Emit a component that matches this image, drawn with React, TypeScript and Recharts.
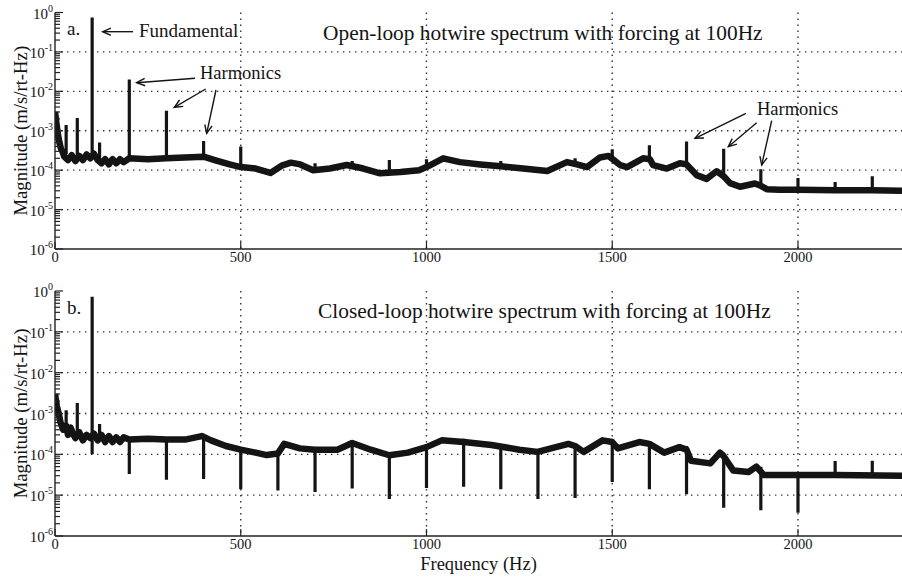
import React from 'react';
import { LineChart, Line, XAxis, YAxis, CartesianGrid, ReferenceLine, Label } from 'recharts';

// frequency axis (Hz) and magnitude decades (m/s/rt-Hz)
const freqTicks = [0, 500, 1000, 1500, 2000];
const decades = [1e-6, 1e-5, 1e-4, 1e-3, 1e-2, 1e-1, 1];
const gridDecades = [1e-5, 1e-4, 1e-3, 1e-2, 1e-1];

// a. open-loop broadband floor [Hz, magnitude]
const openFloor: [number, number][] = [
  [0, 3e-3], [4, 1.5e-3], [8, 8e-4], [12, 5e-4], [16, 3.5e-4], [20, 3e-4], [25, 2.2e-4],
  [35, 1.8e-4], [45, 2.4e-4], [55, 1.7e-4], [65, 2.3e-4], [75, 1.8e-4], [85, 2.5e-4],
  [95, 2.0e-4], [105, 2.6e-4], [115, 1.8e-4], [125, 1.5e-4], [135, 1.9e-4], [145, 1.4e-4],
  [155, 1.9e-4], [165, 1.5e-4], [175, 1.9e-4], [185, 1.6e-4], [200, 2.0e-4], [250, 1.9e-4],
  [300, 2.0e-4], [350, 2.1e-4], [400, 2.2e-4], [430, 1.8e-4], [470, 1.4e-4], [500, 1.2e-4],
  [540, 1.1e-4], [580, 8.5e-5], [610, 1.3e-4], [635, 1.55e-4], [660, 1.4e-4], [695, 1.0e-4],
  [740, 1.1e-4], [785, 1.35e-4], [830, 1.1e-4], [875, 8.3e-5], [930, 9e-5], [980, 1.0e-4],
  [1000, 1.2e-4], [1045, 2.0e-4], [1090, 1.6e-4], [1145, 1.4e-4], [1200, 1.25e-4],
  [1260, 1.1e-4], [1325, 9.5e-5], [1378, 1.6e-4], [1405, 1.4e-4], [1432, 1.2e-4],
  [1467, 2.1e-4], [1490, 2.3e-4], [1521, 1.35e-4], [1540, 1.2e-4], [1583, 2.0e-4],
  [1601, 1.9e-4], [1610, 1.35e-4], [1647, 1.1e-4], [1682, 1.5e-4], [1700, 1.4e-4],
  [1727, 7.5e-5], [1754, 6e-5], [1781, 9.4e-5], [1800, 7e-5], [1817, 4.7e-5], [1844, 3.8e-5],
  [1884, 4.6e-5], [1900, 4e-5], [1916, 3.3e-5], [1950, 3.2e-5], [2000, 3.2e-5],
  [2100, 3.1e-5], [2200, 3.1e-5], [2280, 3.0e-5],
];

// a. open-loop tones [Hz, from, to]
const openTones: [number, number, number][] = [
  [30, 2.5e-4, 1.4e-3], [60, 1.8e-4, 2.1e-3], [100, 2.0e-4, 0.75], [120, 1.8e-4, 5e-4],
  [200, 2.0e-4, 0.02], [300, 2.0e-4, 3.2e-3], [400, 2.2e-4, 5.5e-4], [500, 1.2e-4, 4e-4],
  [700, 1.0e-4, 1.5e-4], [800, 1.3e-4, 1.7e-4], [900, 8.5e-5, 1.8e-4], [1000, 1.2e-4, 1.9e-4],
  [1200, 1.25e-4, 1.7e-4], [1400, 1.4e-4, 2.0e-4], [1500, 2.2e-4, 3.4e-4],
  [1600, 1.9e-4, 4.3e-4], [1700, 1.4e-4, 5.3e-4], [1800, 7e-5, 3.5e-4],
  [1900, 4e-5, 1.05e-4], [2000, 3.2e-5, 6.3e-5], [2100, 3.1e-5, 5e-5], [2200, 3.1e-5, 7e-5],
];

// b. closed-loop broadband floor [Hz, magnitude]
const closedFloor: [number, number][] = [
  [0, 3e-3], [5, 1.5e-3], [10, 1e-3], [15, 6e-4], [22, 4e-4], [30, 5e-4], [35, 3e-4],
  [42, 4.5e-4], [50, 3e-4], [55, 2.5e-4], [65, 3.5e-4], [75, 2.2e-4], [85, 3e-4],
  [95, 2.5e-4], [105, 3.2e-4], [115, 2.2e-4], [125, 3e-4], [135, 2e-4], [145, 2.8e-4],
  [155, 2e-4], [165, 2.6e-4], [175, 2e-4], [185, 2.6e-4], [200, 2.3e-4], [250, 2.4e-4],
  [300, 2.3e-4], [350, 2.3e-4], [395, 2.8e-4], [420, 2.2e-4], [460, 1.6e-4], [500, 1.3e-4],
  [540, 1.1e-4], [570, 9.6e-5], [600, 1.05e-4], [617, 1.8e-4], [659, 1.4e-4], [700, 1.3e-4],
  [760, 1.3e-4], [800, 1.9e-4], [850, 1.3e-4], [900, 9.5e-5], [950, 1.1e-4], [1000, 1.5e-4],
  [1041, 2.2e-4], [1100, 2.0e-4], [1175, 1.7e-4], [1250, 1.3e-4], [1299, 1.15e-4],
  [1382, 1.8e-4], [1400, 1.6e-4], [1423, 1.15e-4], [1474, 2.2e-4], [1500, 2.0e-4],
  [1515, 1.4e-4], [1573, 2.0e-4], [1600, 1.8e-4], [1640, 1.1e-4], [1681, 1.5e-4],
  [1700, 1.3e-4], [1712, 7e-5], [1764, 6e-5], [1790, 1.1e-4], [1800, 9e-5], [1826, 4e-5],
  [1867, 3.7e-5], [1888, 5e-5], [1908, 3.1e-5], [2000, 3.1e-5], [2100, 3.1e-5],
  [2280, 3.0e-5],
];

// b. closed-loop tones and notches [Hz, from, to]
const closedTones: [number, number, number][] = [
  [30, 4e-4, 1.2e-3], [60, 3e-4, 1.8e-3], [100, 1e-4, 0.72], [120, 2.5e-4, 5.5e-4],
  [200, 2.3e-4, 3.3e-5], [300, 2.3e-4, 2.4e-5], [400, 2.8e-4, 2.5e-5], [500, 1.3e-4, 1.4e-5],
  [600, 1.05e-4, 1.3e-5], [700, 1.3e-4, 1.2e-5], [800, 1.9e-4, 1.45e-5], [900, 9.5e-5, 8e-6],
  [1000, 1.5e-4, 1.5e-5], [1100, 2.4e-4, 1.6e-5], [1200, 1.7e-4, 1.4e-5],
  [1300, 1.15e-4, 8e-6], [1400, 1.8e-4, 8.5e-6], [1500, 2.3e-4, 2.1e-5],
  [1600, 2.0e-4, 1.4e-5], [1700, 1.6e-4, 1.05e-5], [1800, 1.1e-4, 4.9e-6],
  [1900, 5e-5, 4.3e-6], [2000, 3.4e-5, 3.7e-6], [2100, 3.1e-5, 6.9e-5], [2200, 3.1e-5, 7e-5],
];

// annotation arrows, in data units [fromHz, fromMag, toHz, toMag]
const fundamentalArrow: [number, number, number, number][] = [[210, 0.326, 128.4, 0.326]];
const harmonicArrowsLow: [number, number, number, number][] = [
  [376.9, 0.0214, 219.9, 0.01656],
  [405.7, 0.01147, 321.1, 0.003938],
  [433.4, 0.01081, 408.3, 8.62e-4],
];
const harmonicArrowsHigh: [number, number, number, number][] = [
  [1860, 2.77e-3, 1722.8, 6.44e-4],
  [1888.8, 1.601e-3, 1812.4, 3.94e-4],
  [1929.2, 1.8e-3, 1902.3, 1.35e-4],
];

const FONT = "'Liberation Serif', 'Times New Roman', serif";
const INK = '#141414';
const AXIS = '#222';

const logTicks = decades.flatMap((d) => (d === 1 ? [1] : [1, 2, 3, 4, 5, 6, 7, 8, 9].map((k) => k * d)));

const floorRows = (pts: [number, number][]) => pts.map(([f, v]) => ({ f, v }));
const toneRows = (tones: [number, number, number][]) =>
  tones.flatMap(([f, a, b]) => [{ f, v: a }, { f, v: b }, { f, v: null }]);

const YTick = (props: any) => {
  const { x, y, payload } = props;
  const lg = Math.log10(payload.value);
  const e = Math.round(lg);
  const major = Math.abs(lg - e) < 1e-6;
  return (
    <g>
      <line x1={x} x2={x + (major ? 8 : 5)} y1={y} y2={y} stroke={AXIS} strokeWidth={1.2} />
      {major && (
        <text x={x - 2} y={y + 6} textAnchor="end" fontFamily={FONT} fontSize={15} fill={INK}>
          10
          <tspan dy={-7} fontSize={10}>{e === 0 ? '0' : `-${-e}`}</tspan>
        </text>
      )}
    </g>
  );
};

const XTick = (props: any) => {
  const { x, y, payload } = props;
  return (
    <g>
      <line x1={x} x2={x} y1={y} y2={y - 7} stroke={AXIS} strokeWidth={1.2} />
      <text x={x} y={y + 13} textAnchor="middle" fontFamily={FONT} fontSize={14.5} fill={INK}>
        {payload.value}
      </text>
    </g>
  );
};

const TopTick = (props: any) => {
  const { x, y } = props;
  return <line x1={x} x2={x} y1={y} y2={y + 7} stroke={AXIS} strokeWidth={1.2} />;
};

const Arrow = (p: any) => {
  const { x1, y1, x2, y2 } = p;
  const ang = Math.atan2(y2 - y1, x2 - x1);
  const L = 9;
  const w = 0.42;
  const ax = x2 - L * Math.cos(ang - w);
  const ay = y2 - L * Math.sin(ang - w);
  const bx = x2 - L * Math.cos(ang + w);
  const by = y2 - L * Math.sin(ang + w);
  return (
    <g stroke={INK} strokeWidth={1.4} fill="none">
      <line x1={x1} y1={y1} x2={x2} y2={y2} />
      <path d={`M${ax},${ay} L${x2},${y2} L${bx},${by}`} />
    </g>
  );
};

const yLabel = (props: any) => {
  const vb = props.viewBox;
  const cx = vb.x + 20;
  const cy = vb.y + vb.height / 2;
  return (
    <text
      x={cx}
      y={cy}
      transform={`rotate(-90 ${cx} ${cy})`}
      textAnchor="middle"
      dominantBaseline="central"
      fontFamily={FONT}
      fontSize={18.7}
      fill={INK}
    >
      Magnitude (m/s/rt-Hz)
    </text>
  );
};

const xLabel = (props: any) => {
  const vb = props.viewBox;
  return (
    <text x={vb.x + vb.width / 2} y={vb.y + 34} textAnchor="middle" fontFamily={FONT} fontSize={18.5} fill={INK}>
      Frequency (Hz)
    </text>
  );
};

interface PanelProps {
  floor: [number, number][];
  tones: [number, number, number][];
  arrows: [number, number, number, number][];
  height: number;
  margin: { top: number; right: number; bottom: number; left: number };
  xAxisHeight: number;
  showXLabel?: boolean;
}

function SpectrumPanel({ floor, tones, arrows, height, margin, xAxisHeight, showXLabel }: PanelProps) {
  return (
    <LineChart width={902} height={height} margin={margin}>
      <CartesianGrid
        horizontal
        vertical
        horizontalValues={gridDecades}
        verticalValues={freqTicks.slice(1)}
        stroke="#333"
        strokeWidth={1.4}
        strokeDasharray="1.4 4.6"
      />
      <XAxis
        dataKey="f"
        type="number"
        domain={[0, 2280]}
        allowDataOverflow
        ticks={freqTicks}
        interval={0}
        height={xAxisHeight}
        tickSize={0}
        tickMargin={0}
        tick={<XTick />}
        axisLine={{ stroke: AXIS, strokeWidth: 1.4 }}
      >
        {showXLabel && <Label content={xLabel} />}
      </XAxis>
      <XAxis
        xAxisId="top"
        orientation="top"
        dataKey="f"
        type="number"
        domain={[0, 2280]}
        allowDataOverflow
        ticks={freqTicks}
        interval={0}
        height={0}
        tickSize={0}
        tickMargin={0}
        tick={<TopTick />}
        axisLine={{ stroke: AXIS, strokeWidth: 1.4 }}
      />
      <YAxis
        scale="log"
        domain={[1e-6, 1]}
        allowDataOverflow
        ticks={logTicks}
        interval={0}
        width={55}
        tickSize={0}
        tickMargin={0}
        tick={<YTick />}
        axisLine={{ stroke: AXIS, strokeWidth: 1.4 }}
      >
        <Label content={yLabel} />
      </YAxis>
      <Line
        data={toneRows(tones)}
        dataKey="v"
        type="linear"
        stroke={INK}
        strokeWidth={3.2}
        dot={false}
        activeDot={false}
        isAnimationActive={false}
      />
      <Line
        data={floorRows(floor)}
        dataKey="v"
        type="linear"
        stroke={INK}
        strokeWidth={6.5}
        strokeLinejoin="round"
        dot={false}
        activeDot={false}
        isAnimationActive={false}
      />
      {arrows.map(([f1, v1, f2, v2], i) => (
        <ReferenceLine
          key={i}
          segment={[{ x: f1, y: v1 }, { x: f2, y: v2 }]}
          shape={Arrow}
          ifOverflow="visible"
        />
      ))}
    </LineChart>
  );
}

export default function App() {
  const txt = { fontFamily: FONT, fill: INK };
  return (
    <div style={{ position: 'absolute', left: 0, top: 0, width: 902, height: 578, background: '#fff', overflow: 'hidden' }}>
      <div style={{ position: 'absolute', left: 0, top: 0 }}>
        <SpectrumPanel
          floor={openFloor}
          tones={openTones}
          arrows={[...fundamentalArrow, ...harmonicArrowsLow, ...harmonicArrowsHigh]}
          height={280}
          margin={{ top: 12.5, right: 0, bottom: 11, left: 0 }}
          xAxisHeight={20}
        />
      </div>
      <div style={{ position: 'absolute', left: 0, top: 278 }}>
        <SpectrumPanel
          floor={closedFloor}
          tones={closedTones}
          arrows={[]}
          height={300}
          margin={{ top: 13, right: 0, bottom: 2, left: 0 }}
          xAxisHeight={40}
          showXLabel
        />
      </div>
      <svg width={902} height={578} style={{ position: 'absolute', left: 0, top: 0, pointerEvents: 'none' }}>
        <text x={67} y={35} fontSize={19} {...txt}>a.</text>
        <text x={323} y={40} fontSize={21.4} {...txt}>Open-loop hotwire spectrum with forcing at 100Hz</text>
        <text x={139} y={37} fontSize={19} {...txt}>Fundamental</text>
        <text x={200} y={79} fontSize={18.5} {...txt}>Harmonics</text>
        <text x={757} y={115} fontSize={18.5} {...txt}>Harmonics</text>
        <text x={67} y={313.5} fontSize={19} {...txt}>b.</text>
        <text x={318} y={318} fontSize={21.4} {...txt}>Closed-loop hotwire spectrum with forcing at 100Hz</text>
      </svg>
    </div>
  );
}
